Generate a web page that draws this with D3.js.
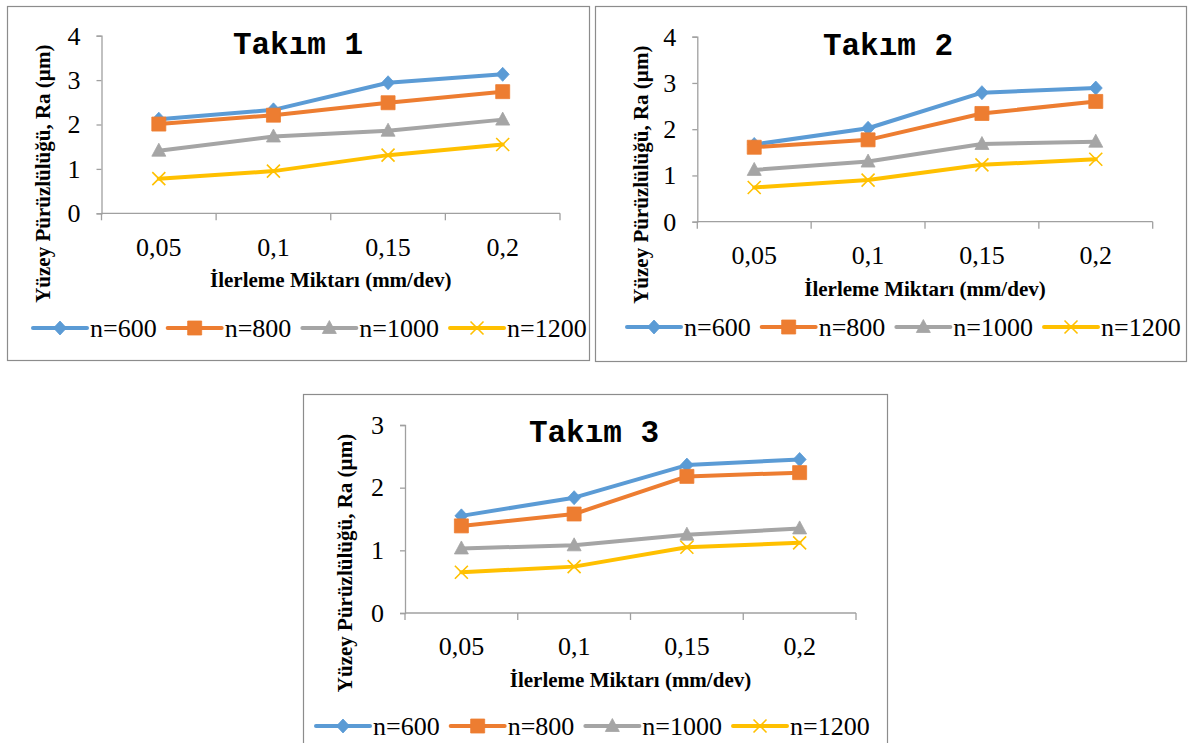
<!DOCTYPE html>
<html>
<head>
<meta charset="utf-8">
<script src="https://cdn.jsdelivr.net/npm/d3@7"></script>
<style>
  html, body { margin: 0; padding: 0; background: #fff; }
  svg { display: block; }
</style>
</head>
<body>
<svg id="chart" width="1190" height="743"></svg>
<script>
// Feed rate categories (mm/dev)
const categories = ["0,05", "0,1", "0,15", "0,2"];
const seriesNames = ["n=600", "n=800", "n=1000", "n=1200"];
const seriesColors = ["#5b9bd5", "#ed7d31", "#a5a5a5", "#ffc000"];
const seriesMarkers = ["diamond", "square", "triangle", "cross"];

// Surface roughness Ra (µm) – Takım 1
const t1_n600  = [2.12, 2.33, 2.94, 3.13];
const t1_n800  = [2.01, 2.21, 2.49, 2.74];
const t1_n1000 = [1.41, 1.73, 1.86, 2.11];
const t1_n1200 = [0.78, 0.95, 1.31, 1.55];

// Takım 2
const t2_n600  = [1.67, 2.02, 2.79, 2.89];
const t2_n800  = [1.61, 1.77, 2.34, 2.60];
const t2_n1000 = [1.12, 1.30, 1.68, 1.73];
const t2_n1200 = [0.74, 0.90, 1.23, 1.35];

// Takım 3
const t3_n600  = [1.55, 1.84, 2.36, 2.45];
const t3_n800  = [1.39, 1.58, 2.18, 2.24];
const t3_n1000 = [1.03, 1.08, 1.25, 1.35];
const t3_n1200 = [0.65, 0.74, 1.05, 1.12];

const yTicks12 = [0, 1, 2, 3, 4];
const yTicks3  = [0, 1, 2, 3];

const titles = ["Takım 1", "Takım 2", "Takım 3"];
const xTitle = "İlerleme Miktarı (mm/dev)";
const yTitle = "Yüzey Pürüzlülüğü, Ra (µm)";

// Panel layout
const panels = [
  { title: titles[0], series: [t1_n600, t1_n800, t1_n1000, t1_n1200], yTicks: yTicks12,
    frame: [7, 6, 582, 354], plot: { l: 101.5, r: 560, t: 35.7, b: 213.3 },
    titleX: 298, titleY: 54, yTitleX: 43, legendX: 33, legendY: 328 },
  { title: titles[1], series: [t2_n600, t2_n800, t2_n1000, t2_n1200], yTicks: yTicks12,
    frame: [595, 6, 591, 355], plot: { l: 697.3, r: 1152.7, t: 36.7, b: 221.7 },
    titleX: 888, titleY: 55, yTitleX: 641, legendX: 627, legendY: 327 },
  { title: titles[2], series: [t3_n600, t3_n800, t3_n1000, t3_n1200], yTicks: yTicks3,
    frame: [303, 394, 584, 360], plot: { l: 405, r: 856, t: 425, b: 613 },
    titleX: 594, titleY: 442, yTitleX: 345, legendX: 316, legendY: 726 }
];

const svg = d3.select("#chart");
const SERIF = "'Liberation Serif', 'Times New Roman', serif";
const MONO = "'Liberation Mono', 'Courier New', monospace";

function markerPath(type) {
  const p = d3.path();
  if (type === "diamond") {
    p.moveTo(0, -7); p.lineTo(6.5, 0); p.lineTo(0, 7); p.lineTo(-6.5, 0); p.closePath();
  } else if (type === "square") {
    p.rect(-7, -7, 14, 14);
  } else if (type === "triangle") {
    p.moveTo(0, -7.5); p.lineTo(7, 5.5); p.lineTo(-7, 5.5); p.closePath();
  } else {
    p.moveTo(-6.5, -6.5); p.lineTo(6.5, 6.5); p.moveTo(6.5, -6.5); p.lineTo(-6.5, 6.5);
  }
  return p.toString();
}

function drawMarker(g, type, color, x, y) {
  const m = g.append("path")
    .attr("d", markerPath(type))
    .attr("transform", `translate(${x},${y})`);
  if (type === "cross") {
    m.attr("fill", "none").attr("stroke", color).attr("stroke-width", 1.6);
  } else {
    m.attr("fill", color).attr("stroke", color).attr("stroke-width", 0.8);
  }
}

panels.forEach(pn => {
  const g = svg.append("g");
  const [fx, fy, fw, fh] = pn.frame;
  g.append("rect")
    .attr("x", fx + 0.5).attr("y", fy + 0.5).attr("width", fw).attr("height", fh)
    .attr("fill", "#fff").attr("stroke", "#8c8c8c").attr("stroke-width", 1.2);

  const yMax = d3.max(pn.yTicks);
  const x = d3.scaleBand().domain(categories).range([pn.plot.l, pn.plot.r]).padding(0);
  const y = d3.scaleLinear().domain([0, yMax]).range([pn.plot.b, pn.plot.t]);
  const bw = x.bandwidth();

  // Y axis
  const yAxis = g.append("g")
    .attr("transform", `translate(${pn.plot.l},0)`)
    .call(d3.axisLeft(y).tickValues(pn.yTicks).tickFormat(d3.format("d")).tickSize(5).tickPadding(16));
  yAxis.attr("font-family", SERIF).attr("font-size", 26);
  yAxis.select(".domain").attr("stroke", "#a0a0a0").attr("stroke-width", 1.3);
  yAxis.selectAll(".tick line").attr("stroke", "#a0a0a0").attr("stroke-width", 1.3);
  yAxis.selectAll(".tick text").attr("fill", "#000");

  // X axis: labels centred in each category, tick marks between categories
  const xAxis = g.append("g")
    .attr("transform", `translate(0,${pn.plot.b})`)
    .call(d3.axisBottom(x).tickSize(0).tickPadding(24));
  xAxis.attr("font-family", SERIF).attr("font-size", 26);
  xAxis.select(".domain").attr("d", `M${pn.plot.l},0H${pn.plot.r}`)
    .attr("stroke", "#a0a0a0").attr("stroke-width", 1.3);
  xAxis.selectAll(".tick text").attr("fill", "#000");
  const edges = d3.range(categories.length + 1).map(i => pn.plot.l + i * bw);
  xAxis.selectAll("line.sep").data(edges).join("line")
    .attr("class", "sep")
    .attr("x1", d => d).attr("x2", d => d).attr("y1", 0).attr("y2", 7)
    .attr("stroke", "#a0a0a0").attr("stroke-width", 1.3);

  // Axis titles
  g.append("text")
    .attr("x", (pn.plot.l + pn.plot.r) / 2).attr("y", pn.plot.b + 74)
    .attr("text-anchor", "middle")
    .attr("font-family", SERIF).attr("font-weight", "bold").attr("font-size", 21)
    .text(xTitle);
  g.append("text")
    .attr("transform", `translate(${pn.yTitleX},${pn.plot.t + 138}) rotate(-90)`)
    .attr("text-anchor", "middle").attr("dy", "0.35em")
    .attr("font-family", SERIF).attr("font-weight", "bold").attr("font-size", 21)
    .text(yTitle);

  // Chart title
  g.append("text")
    .attr("x", pn.titleX).attr("y", pn.titleY)
    .attr("text-anchor", "middle")
    .attr("font-family", MONO).attr("font-weight", "bold").attr("font-size", 31)
    .text(pn.title);

  // Series lines and markers
  const line = d3.line()
    .x((d, i) => x(categories[i]) + bw / 2)
    .y(d => y(d));
  pn.series.forEach((vals, si) => {
    g.append("path")
      .datum(vals)
      .attr("d", line)
      .attr("fill", "none")
      .attr("stroke", seriesColors[si])
      .attr("stroke-width", 4)
      .attr("stroke-linejoin", "round")
      .attr("stroke-linecap", "round");
    vals.forEach((v, i) => {
      drawMarker(g, seriesMarkers[si], seriesColors[si], x(categories[i]) + bw / 2, y(v));
    });
  });

  // Legend
  const lg = g.append("g").attr("transform", `translate(${pn.legendX},${pn.legendY})`);
  let cx = 0;
  seriesNames.forEach((name, si) => {
    lg.append("line")
      .attr("x1", cx).attr("x2", cx + 54).attr("y1", 0).attr("y2", 0)
      .attr("stroke", seriesColors[si]).attr("stroke-width", 4)
      .attr("stroke-linecap", "round");
    drawMarker(lg, seriesMarkers[si], seriesColors[si], cx + 27, 0);
    const t = lg.append("text")
      .attr("x", cx + 57).attr("y", 0).attr("dy", "0.35em")
      .attr("font-family", SERIF).attr("font-size", 26).attr("fill", "#000")
      .text(name);
    cx += 57 + t.node().getComputedTextLength() + 11;
  });
});
</script>
</body>
</html>
